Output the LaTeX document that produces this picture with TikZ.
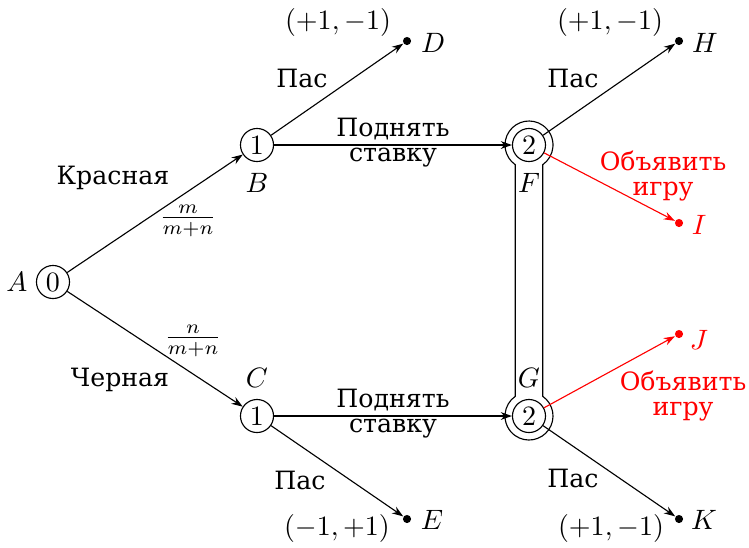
\documentclass[tikz,border=0pt]{standalone}
\usepackage[no-math]{fontspec}
\newfontfamily\cyrfont{DejaVu Serif}
\usetikzlibrary{arrows.meta}
\begin{document}
\begin{tikzpicture}[x=0.357pt,y=-0.357pt,
  chance/.style={circle,draw,inner sep=0pt,minimum size=11.8pt},
  term/.style={circle,fill,inner sep=0pt,minimum size=2.9pt},
  edge/.style={-{Stealth[length=4pt,width=2.8pt]},line width=0.4pt},
  lbl/.style={inner sep=0pt},
  txt/.style={inner sep=0pt,font={\cyrfont\fontsize{9}{8.9}\selectfont},align=center},
  rtxt/.style={txt,text=red}]
\useasboundingbox (0,0) rectangle (749,547);
% decision nodes
\node[chance] (A) at (53,282) {$0$};
\node[chance] (B) at (257,145) {$1$};
\node[chance] (C) at (257,416) {$1$};
\node[chance] (F) at (529,145) {$2$};
\node[chance] (G) at (529,416) {$2$};
% terminal dots
\node[term] (D) at (407,41) {};
\node[term] (E) at (407,519) {};
\node[term] (H) at (679,41) {};
\node[term,red] (I) at (679,223) {};
\node[term,red] (J) at (679,334) {};
\node[term] (K) at (679,519) {};
% information set
\draw[line width=0.4pt] ([shift={(235.2:8.57pt)}]F.center)
  arc[start angle=235.2,end angle=-55.2,radius=8.57pt]
  -- ([shift={(55.2:8.57pt)}]G.center)
  arc[start angle=55.2,end angle=-235.2,radius=8.57pt] -- cycle;
% edges
\draw[edge] (A) -- (B);
\draw[edge] (A) -- (C);
\draw[edge] (B) -- (D);
\draw[edge] (B) -- (F);
\draw[edge] (C) -- (E);
\draw[edge] (C) -- (G);
\draw[edge] (F) -- (H);
\draw[edge,red] (F) -- (I);
\draw[edge,red] (G) -- (J);
\draw[edge] (G) -- (K);
% node labels
\node[lbl] (lA) at (17,282) {$A$};
\node[lbl] (lB) at (257,183) {$B$};
\node[lbl] (lC) at (257,378) {$C$};
\node[lbl] (lF) at (529,183) {$F$};
\node[lbl] (lG) at (529,378) {$G$};
\node[lbl] (lD) at (433,43) {$D$};
\node[lbl] (lE) at (432,520) {$E$};
\node[lbl] (lH) at (705,43) {$H$};
\node[lbl,red] (lI) at (699,225) {$I$};
\node[lbl,red] (lJ) at (699,340) {$J$};
\node[lbl] (lK) at (704,520) {$K$};
% payoffs
\node[lbl] (pD) at (338,22) {$(+1,-1)$};
\node[lbl] (pE) at (337,528) {$(-1,+1)$};
\node[lbl] (pH) at (610,22) {$(+1,-1)$};
\node[lbl] (pK) at (611,528) {$(+1,-1)$};
% edge labels
\node[txt] (t1) at (113,178) {Красная};
\node[lbl] (f1) at (188,221) {$\frac{m}{m+n}$};
\node[txt] (t2) at (120,380) {Черная};
\node[lbl] (f2) at (193,341) {$\frac{n}{m+n}$};
\node[txt] (p1) at (302,78) {Пас};
\node[txt] (p2) at (300,480) {Пас};
\node[txt] (p3) at (573,78) {Пас};
\node[txt] (p4) at (573,478) {Пас};
\node[txt] (r1) at (393,143) {Поднять\\ставку};
\node[txt] (r2) at (393,414) {Поднять\\ставку};
\node[rtxt] (o1) at (663,176) {Объявить\\игру};
\node[rtxt] (o2) at (683,396) {Объявить\\игру};
\end{tikzpicture}
\end{document}
